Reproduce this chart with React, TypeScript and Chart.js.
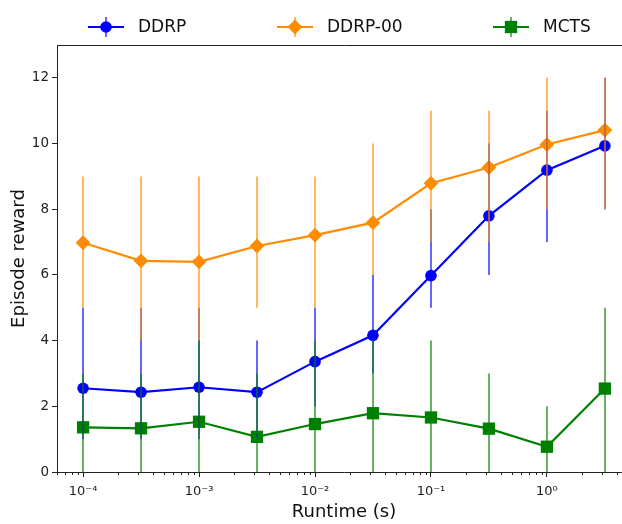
import React, { useEffect, useRef } from 'react';
import { Chart, registerables } from 'chart.js';

Chart.register(...registerables);

// ---- data ----
const runtimes = [1e-4, 3.16e-4, 1e-3, 3.16e-3, 1e-2, 3.16e-2, 1e-1, 3.16e-1, 1, 3.16];

const ddrpMean = [2.55, 2.43, 2.58, 2.43, 3.36, 4.16, 5.98, 7.8, 9.19, 9.93];
const ddrpLow = [1, 1, 1, 1, 2, 3, 5, 6, 7, 8];
const ddrpHigh = [5, 5, 5, 4, 5, 6, 8, 10, 11, 12];

const ddrp00Mean = [6.98, 6.43, 6.4, 6.88, 7.21, 7.59, 8.79, 9.27, 9.97, 10.41];
const ddrp00Low = [5, 4, 4, 5, 5, 6, 7, 7, 8, 8];
const ddrp00High = [9, 9, 9, 9, 9, 10, 11, 11, 12, 12];

const mctsMean = [1.36, 1.33, 1.53, 1.07, 1.46, 1.79, 1.66, 1.32, 0.77, 2.54];
const mctsLow = [0, 0, 0, 0, 0, 0, 0, 0, 0, 0];
const mctsHigh = [3, 3, 4, 3, 4, 4, 4, 3, 2, 5];

const seriesLabels = ['DDRP', 'DDRP-00', 'MCTS'];
const xTickValues = [1e-4, 1e-3, 1e-2, 1e-1, 1];
const xTickLabels = ['10⁻⁴', '10⁻³', '10⁻²', '10⁻¹', '10⁰'];
const yTickValues = [0, 2, 4, 6, 8, 10, 12];
const xTitle = 'Runtime (s)';
const yTitle = 'Episode reward';

const FONT = "'DejaVu Sans', sans-serif";
const AXIS = '#222222';

function drawMarker(ctx: CanvasRenderingContext2D, style: string, x: number, y: number, r: number, color: string) {
  ctx.fillStyle = color;
  ctx.beginPath();
  if (style === 'circle') {
    ctx.arc(x, y, r, 0, Math.PI * 2);
  } else if (style === 'rectRot') {
    ctx.moveTo(x, y - r);
    ctx.lineTo(x + r, y);
    ctx.lineTo(x, y + r);
    ctx.lineTo(x - r, y);
    ctx.closePath();
  } else {
    const h = r * Math.SQRT1_2;
    ctx.rect(x - h, y - h, 2 * h, 2 * h);
  }
  ctx.fill();
}

const errorBarPlugin = {
  id: 'errorBars',
  afterDatasetsDraw(chart: any) {
    const { ctx, chartArea, scales } = chart;
    const xs = scales.x;
    const ys = scales.y;
    ctx.save();
    ctx.beginPath();
    ctx.rect(chartArea.left, chartArea.top, chartArea.right - chartArea.left, chartArea.bottom - chartArea.top);
    ctx.clip();
    chart.data.datasets.forEach((ds: any) => {
      ctx.strokeStyle = ds.errColor;
      ctx.lineWidth = 2;
      ds.data.forEach((pt: any, i: number) => {
        const px = Math.round(xs.getPixelForValue(pt.x));
        ctx.beginPath();
        ctx.moveTo(px, ys.getPixelForValue(ds.errLow[i]));
        ctx.lineTo(px, ys.getPixelForValue(ds.errHigh[i]));
        ctx.stroke();
      });
    });
    ctx.restore();
  },
};

const framePlugin = {
  id: 'frameAndMinor',
  afterDraw(chart: any) {
    const { ctx, chartArea, scales } = chart;
    const xs = scales.x;
    ctx.save();
    ctx.strokeStyle = AXIS;
    ctx.lineWidth = 1;
    const top = Math.floor(chartArea.top) + 0.5;
    const right = Math.floor(chartArea.right) + 0.5;
    ctx.beginPath();
    ctx.moveTo(chartArea.left, top);
    ctx.lineTo(right, top);
    ctx.lineTo(right, chartArea.bottom);
    ctx.stroke();
    // minor log ticks
    const bottom = Math.floor(chartArea.bottom) + 0.5;
    for (let d = -5; d <= 1; d++) {
      for (let m = 2; m <= 9; m++) {
        const v = m * Math.pow(10, d);
        if (v <= xs.min || v >= xs.max) continue;
        const px = Math.round(xs.getPixelForValue(v)) + 0.5;
        ctx.beginPath();
        ctx.moveTo(px, bottom);
        ctx.lineTo(px, bottom + 2.5);
        ctx.stroke();
      }
    }
    ctx.restore();
  },
};

const legendX = [88, 277, 493];
const legendY = 27;

const legendPlugin = {
  id: 'customLegend',
  afterDraw(chart: any) {
    const { ctx } = chart;
    ctx.save();
    chart.data.datasets.forEach((ds: any, i: number) => {
      const x0 = legendX[i];
      const cx = x0 + 18;
      ctx.strokeStyle = ds.borderColor;
      ctx.lineWidth = 2;
      ctx.beginPath();
      ctx.moveTo(x0, legendY);
      ctx.lineTo(x0 + 36, legendY);
      ctx.stroke();
      drawMarker(ctx, ds.pointStyle, cx, legendY, ds.pointRadius, ds.pointBackgroundColor);
      ctx.strokeStyle = ds.errColor;
      ctx.lineWidth = 2;
      ctx.beginPath();
      ctx.moveTo(cx, legendY - 10);
      ctx.lineTo(cx, legendY + 10);
      ctx.stroke();
      ctx.fillStyle = '#111111';
      ctx.font = `17px ${FONT}`;
      ctx.textBaseline = 'middle';
      ctx.textAlign = 'left';
      ctx.fillText(ds.label, x0 + 50, legendY + 1);
    });
    ctx.restore();
  },
};

export default function App() {
  const ref = useRef<HTMLCanvasElement | null>(null);

  useEffect(() => {
    if (!ref.current) return;
    const mk = (arr: number[]) => runtimes.map((x, i) => ({ x, y: arr[i] }));
    const chart = new Chart(ref.current, {
      type: 'line',
      data: {
        datasets: [
          {
            label: seriesLabels[0],
            data: mk(ddrpMean),
            borderColor: '#0000ff',
            backgroundColor: '#0000ff',
            pointBackgroundColor: '#0000ff',
            pointStyle: 'circle',
            pointRadius: 5.8,
            pointBorderWidth: 0,
            borderWidth: 2.2,
            order: 3,
            errLow: ddrpLow,
            errHigh: ddrpHigh,
            errColor: 'rgba(0,0,255,0.6)',
          } as any,
          {
            label: seriesLabels[1],
            data: mk(ddrp00Mean),
            borderColor: '#ff8c00',
            backgroundColor: '#ff8c00',
            pointBackgroundColor: '#ff8c00',
            pointStyle: 'rectRot',
            pointRadius: 7.4,
            pointBorderWidth: 0,
            borderWidth: 2.2,
            order: 2,
            errLow: ddrp00Low,
            errHigh: ddrp00High,
            errColor: 'rgba(255,140,0,0.62)',
          } as any,
          {
            label: seriesLabels[2],
            data: mk(mctsMean),
            borderColor: '#008000',
            backgroundColor: '#008000',
            pointBackgroundColor: '#008000',
            pointStyle: 'rect',
            pointRadius: 8.7,
            pointBorderWidth: 0,
            borderWidth: 2.2,
            order: 1,
            errLow: mctsLow,
            errHigh: mctsHigh,
            errColor: 'rgba(0,128,0,0.6)',
          } as any,
        ],
      },
      options: {
        responsive: false,
        animation: false,
        events: [],
        layout: { padding: { top: 45, left: 0, right: 9, bottom: 0 } },
        plugins: { legend: { display: false }, tooltip: { enabled: false } },
        scales: {
          x: {
            type: 'logarithmic',
            min: Math.pow(10, -4.225),
            max: Math.pow(10, 0.725),
            afterBuildTicks: (s: any) => {
              s.ticks = xTickValues.map((v) => ({ value: v, major: true }));
            },
            afterFit: (s: any) => {
              s.height = 52;
            },
            grid: { drawOnChartArea: false, tickLength: 5, color: AXIS },
            border: { color: AXIS, width: 1 },
            ticks: {
              autoSkip: false,
              maxRotation: 0,
              padding: 7,
              color: '#222222',
              font: { family: FONT, size: 13 },
              callback: (_v: any, i: number) => xTickLabels[i],
            },
            title: {
              display: true,
              text: xTitle,
              color: '#111111',
              font: { family: FONT, size: 18 },
              padding: { top: 0, bottom: 1 },
            },
          },
          y: {
            type: 'linear',
            min: 0,
            max: 13,
            afterBuildTicks: (s: any) => {
              s.ticks = yTickValues.map((v) => ({ value: v }));
            },
            afterFit: (s: any) => {
              s.width = 57;
            },
            grid: { drawOnChartArea: false, tickLength: 5, color: AXIS },
            border: { color: AXIS, width: 1 },
            ticks: {
              padding: 3,
              color: '#222222',
              font: { family: FONT, size: 13.5 },
              callback: (v: any) => String(v),
            },
            title: {
              display: true,
              text: yTitle,
              color: '#111111',
              font: { family: FONT, size: 18 },
              padding: { top: 9, bottom: 0 },
            },
          },
        },
      } as any,
      plugins: [errorBarPlugin, framePlugin, legendPlugin],
    });
    return () => chart.destroy();
  }, []);

  return (
    <div style={{ position: 'absolute', left: 0, top: 0, width: 622, height: 524, overflow: 'hidden', background: '#fff' }}>
      <canvas ref={ref} width={640} height={524} style={{ width: 640, height: 524, display: 'block' }} />
    </div>
  );
}
